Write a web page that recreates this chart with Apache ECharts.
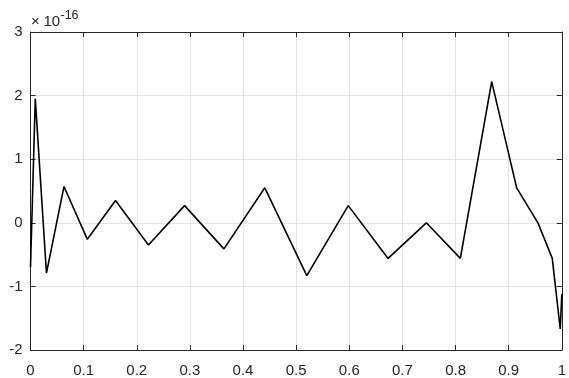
<!DOCTYPE html>
<html>
<head>
<meta charset="utf-8">
<script src="https://cdn.jsdelivr.net/npm/echarts@6/dist/echarts.min.js"></script>
<style>
  html, body { margin: 0; padding: 0; background: #ffffff; }
  #chart { width: 569px; height: 378px; }
</style>
</head>
<body>
<div id="chart"></div>
<script>
// Sample positions along [0, 1]
var xs = [0, 0.009, 0.030, 0.063, 0.107, 0.160, 0.222, 0.290, 0.364, 0.441,
          0.520, 0.598, 0.673, 0.745, 0.809, 0.868, 0.915, 0.955, 0.982, 0.997, 1];
// Residual values, in units of 1e-16
var ys = [-0.70, 1.95, -0.79, 0.57, -0.26, 0.35, -0.35, 0.27, -0.41, 0.55,
          -0.83, 0.27, -0.56, 0.00, -0.56, 2.22, 0.55, 0.00, -0.56, -1.67, -1.12];
var xTicks = [0, 0.1, 0.2, 0.3, 0.4, 0.5, 0.6, 0.7, 0.8, 0.9, 1];
var yTicks = [-2, -1, 0, 1, 2, 3];
var exponentTimes = '\u00d7';
var exponentBase = '10';
var exponentPower = '-16';

var points = xs.map(function (x, i) { return [x, ys[i]]; });

var axisColor = '#262626';
var font = 'Arial, "Liberation Sans", Helvetica, sans-serif';

function fmtX(v) {
  for (var i = 0; i < xTicks.length; i++) {
    if (Math.abs(xTicks[i] - v) < 1e-9) return String(xTicks[i]);
  }
  return '';
}
function fmtY(v) {
  for (var i = 0; i < yTicks.length; i++) {
    if (Math.abs(yTicks[i] - v) < 1e-9) return String(yTicks[i]);
  }
  return '';
}

var chart = echarts.init(document.getElementById('chart'), null, { renderer: 'canvas' });

var baseX = {
  type: 'value', min: 0, max: 1, interval: 0.1,
  axisLine: { show: true, onZero: false, lineStyle: { color: axisColor, width: 1 } },
  axisTick: { show: true, inside: true, length: 5, lineStyle: { color: axisColor, width: 1 } }
};
var baseY = {
  type: 'value', min: -2, max: 3, interval: 1,
  axisLine: { show: true, onZero: false, lineStyle: { color: axisColor, width: 1 } },
  axisTick: { show: true, inside: true, length: 5, lineStyle: { color: axisColor, width: 1 } }
};

chart.setOption({
  animation: false,
  backgroundColor: '#ffffff',
  grid: { left: 30.5, right: 4.5, top: 32, bottom: 26, containLabel: false },
  xAxis: [
    Object.assign({}, baseX, {
      position: 'bottom',
      axisLabel: { show: true, margin: 13, color: axisColor, fontSize: 15, fontFamily: font, formatter: fmtX },
      splitLine: { show: true, lineStyle: { color: '#e3e3e3', width: 1 } }
    }),
    Object.assign({}, baseX, {
      position: 'top',
      axisLabel: { show: false },
      splitLine: { show: false }
    })
  ],
  yAxis: [
    Object.assign({}, baseY, {
      position: 'left',
      axisLabel: { show: true, margin: 8, color: axisColor, fontSize: 15, fontFamily: font, formatter: fmtY },
      splitLine: { show: true, lineStyle: { color: '#e3e3e3', width: 1 } }
    }),
    Object.assign({}, baseY, {
      position: 'right',
      axisLabel: { show: false },
      splitLine: { show: false }
    })
  ],
  // Axis exponent: ×10^-16
  graphic: [
    {
      type: 'text', x: 31, y: 21.5,
      style: { text: exponentTimes, font: '15px ' + font, fill: axisColor, verticalAlign: 'middle', align: 'left' }
    },
    {
      type: 'text', x: 43.5, y: 21.5,
      style: { text: exponentBase, font: '15px ' + font, fill: axisColor, verticalAlign: 'middle', align: 'left' }
    },
    {
      type: 'text', x: 60.5, y: 15.5,
      style: { text: exponentPower, font: '12.5px ' + font, fill: axisColor, verticalAlign: 'middle', align: 'left' }
    }
  ],
  series: [{
    type: 'line',
    xAxisIndex: 0,
    yAxisIndex: 0,
    data: points,
    showSymbol: false,
    symbol: 'none',
    lineStyle: { color: '#000000', width: 1.6 },
    z: 5
  }]
});
</script>
</body>
</html>
